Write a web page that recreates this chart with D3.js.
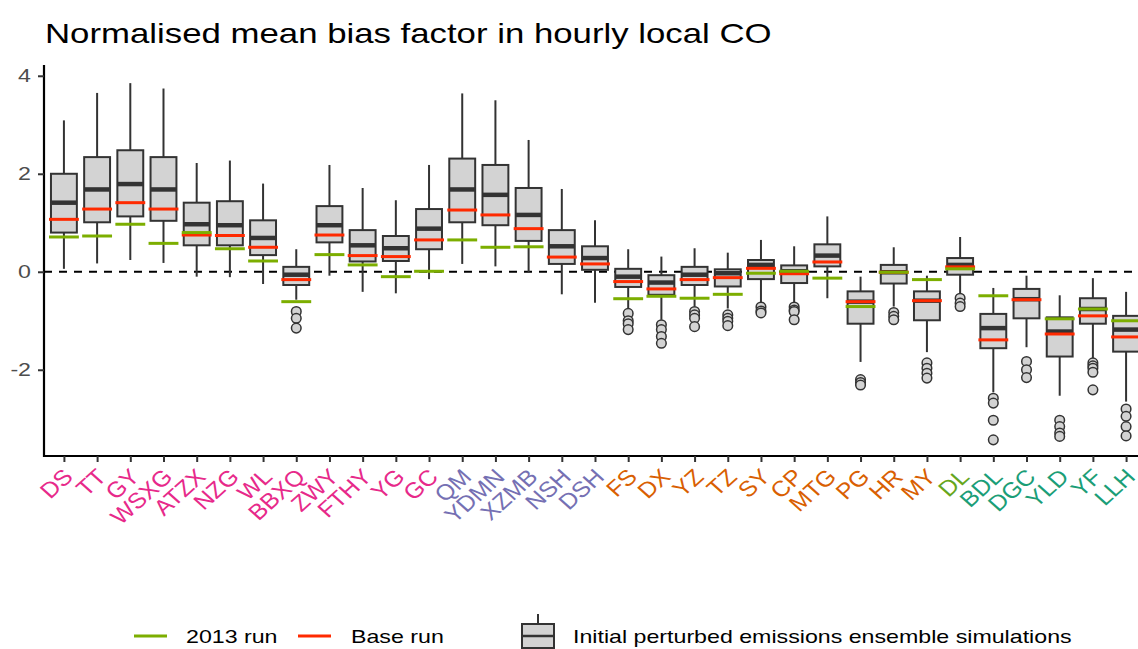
<!DOCTYPE html>
<html>
<head>
<meta charset="utf-8">
<script src="https://cdn.jsdelivr.net/npm/d3@7"></script>
<style>
  html, body { margin: 0; padding: 0; background: #fff; }
  svg { display: block; font-family: "Liberation Sans", Arial, sans-serif; }
</style>
</head>
<body>
<svg id="chart" width="1138" height="649"></svg>
<script>
// Sites and their region groups
const sites = ["DS","TT","GY","WSXG","ATZX","NZG","WL","BBXQ","ZWY","FTHY","YG","GC",
               "QM","YDMN","XZMB","NSH","DSH",
               "FS","DX","YZ","TZ","SY","CP","MTG","PG","HR","MY",
               "DL",
               "BDL","DGC","YLD","YF","LLH"];
const regions = ["A","A","A","A","A","A","A","A","A","A","A","A",
                 "B","B","B","B","B",
                 "C","C","C","C","C","C","C","C","C","C",
                 "D",
                 "E","E","E","E","E"];
const regionNames = ["A","B","C","D","E"];
const regionColours = ["#E7298A","#7570B3","#D95F02","#66A61E","#1B9E77"];

// Ensemble box statistics per site
const whiskerLow  = [0.06,0.17,0.24,0.18,-0.10,-0.11,-0.25,-0.57,-0.08,-0.41,-0.44,-0.15,
                     0.16,0.11,-0.01,-0.46,-0.63,
                     -0.76,-0.98,-0.71,-0.75,-0.64,-0.67,-0.54,-1.84,-0.71,-1.64,
                     -0.47,
                     -2.46,-1.54,-2.53,-1.83,-2.65];
const lowerQuartile = [0.80,1.01,1.13,1.04,0.54,0.54,0.34,-0.27,0.60,0.21,0.22,0.46,
                       1.01,0.95,0.63,0.16,0.04,
                       -0.31,-0.47,-0.27,-0.30,-0.15,-0.23,0.11,-1.06,-0.24,-0.99,
                       -0.06,
                       -1.56,-0.95,-1.73,-1.06,-1.63];
const medians = [1.41,1.68,1.79,1.68,0.97,0.95,0.69,-0.06,0.95,0.54,0.48,0.88,
                 1.68,1.57,1.16,0.52,0.28,
                 -0.10,-0.22,-0.06,-0.03,0.14,0.01,0.33,-0.61,-0.01,-0.59,
                 0.14,
                 -1.15,-0.56,-1.22,-0.76,-1.18];
const upperQuartile = [2.00,2.34,2.48,2.34,1.41,1.44,1.05,0.10,1.34,0.85,0.73,1.28,
                       2.31,2.18,1.71,0.85,0.52,
                       0.06,-0.07,0.10,0.05,0.24,0.13,0.56,-0.40,0.14,-0.40,
                       0.28,
                       -0.86,-0.35,-0.93,-0.54,-0.90];
const whiskerHigh = [3.09,3.65,3.85,3.74,2.22,2.27,1.80,0.46,2.18,1.71,1.46,2.18,
                     3.64,3.50,2.69,1.69,1.05,
                     0.46,0.31,0.48,0.39,0.65,0.52,1.13,-0.10,0.50,-0.08,
                     0.71,
                     -0.33,-0.08,-0.48,-0.13,-0.41];
const outliers = [[],[],[],[],[],[],[],[-0.81,-0.95,-1.15],[],[],[],[],
                  [],[],[],[],[],
                  [-0.85,-1.00,-1.06,-1.18],[-1.08,-1.18,-1.32,-1.46],[-0.81,-0.88,-0.95,-1.12],
                  [-0.88,-0.95,-1.01,-1.10],[-0.72,-0.80,-0.84],[-0.72,-0.78,-0.81,-0.98],[],
                  [-2.20,-2.26,-2.31],[-0.83,-0.91,-0.98],[-1.86,-1.97,-2.07,-2.17],
                  [-0.54,-0.64,-0.71],
                  [-2.58,-2.68,-3.03,-3.43],[-1.83,-2.00,-2.16],[-3.03,-3.16,-3.29,-3.36],
                  [-1.86,-1.92,-1.97,-2.05,-2.41],[-2.80,-2.95,-3.16,-3.35]];

// Single-run results (null where the 2013 run has no value)
const baseRun = [1.07,1.28,1.41,1.28,0.75,0.74,0.50,-0.16,0.75,0.33,0.31,0.65,
                 1.26,1.16,0.88,0.30,0.16,
                 -0.20,-0.35,-0.16,-0.12,0.07,-0.04,0.20,-0.61,-0.01,-0.59,
                 0.10,
                 -1.39,-0.57,-1.27,-0.90,-1.33];
const run2013 = [0.71,0.73,0.97,0.58,0.80,0.47,0.22,-0.61,0.35,0.14,-0.10,0.01,
                 0.65,0.50,0.51,null,null,
                 -0.55,-0.50,-0.54,-0.46,-0.03,0.01,-0.13,-0.71,-0.01,-0.16,
                 0.06,
                 -0.49,null,-0.96,-0.76,-1.00];

const yTicks = [-2, 0, 2, 4];
const yDomain = [-3.76, 4.22];

// Horizontal widening of the typeface
const widen = 1.22;

const svg = d3.select("#chart");
const panel = {left: 44, right: 1146, top: 65, bottom: 456};

const x = d3.scalePoint().domain(sites).range([panel.left, panel.right]).padding(0.6);
const y = d3.scaleLinear().domain(yDomain).range([panel.bottom, panel.top]);
const colour = d3.scaleOrdinal().domain(regionNames).range(regionColours);
const step = x.step();
const boxW = step * 0.78;
const segW = step * 0.9;

// stretch a text selection horizontally by the given factor
function stretch(sel, k) {
  sel.each(function () {
    const len = this.getComputedTextLength();
    d3.select(this).attr("textLength", len * k).attr("lengthAdjust", "spacingAndGlyphs");
  });
}

const rows = sites.map((s, i) => ({
  site: s, region: regions[i],
  lo: whiskerLow[i], q1: lowerQuartile[i], med: medians[i], q3: upperQuartile[i], hi: whiskerHigh[i],
  out: outliers[i], base: baseRun[i], r2013: run2013[i]
}));

// Title
svg.append("text")
  .attr("x", 45).attr("y", 43)
  .attr("font-size", 28.5).attr("fill", "#000")
  .text("Normalised mean bias factor in hourly local CO")
  .call(stretch, widen);

const plot = svg.append("g");

// zero reference line
plot.append("line")
  .attr("x1", panel.left).attr("x2", panel.right)
  .attr("y1", y(0)).attr("y2", y(0))
  .attr("stroke", "#000").attr("stroke-width", 2)
  .attr("stroke-dasharray", "8,7");

const g = plot.selectAll("g.site").data(rows).join("g").attr("class", "site");

// whiskers
g.append("line")
  .attr("x1", d => x(d.site)).attr("x2", d => x(d.site))
  .attr("y1", d => y(d.hi)).attr("y2", d => y(d.lo))
  .attr("stroke", "#333").attr("stroke-width", 2);

// boxes
g.append("rect")
  .attr("x", d => x(d.site) - boxW / 2).attr("width", boxW)
  .attr("y", d => y(d.q3)).attr("height", d => y(d.q1) - y(d.q3))
  .attr("fill", "#D3D3D3").attr("stroke", "#333").attr("stroke-width", 2);

// medians
g.append("line")
  .attr("x1", d => x(d.site) - boxW / 2).attr("x2", d => x(d.site) + boxW / 2)
  .attr("y1", d => y(d.med)).attr("y2", d => y(d.med))
  .attr("stroke", "#333").attr("stroke-width", 4.5);

// outliers
g.selectAll("circle").data(d => d.out.map(v => ({site: d.site, v})))
  .join("circle")
  .attr("cx", d => x(d.site)).attr("cy", d => y(d.v)).attr("r", 4.8)
  .attr("fill", "#D3D3D3").attr("stroke", "#333").attr("stroke-width", 1.5);

// base run segments
g.append("line")
  .attr("x1", d => x(d.site) - segW / 2).attr("x2", d => x(d.site) + segW / 2)
  .attr("y1", d => y(d.base)).attr("y2", d => y(d.base))
  .attr("stroke", "#FF2A00").attr("stroke-width", 3);

// 2013 run segments
g.filter(d => d.r2013 !== null).append("line")
  .attr("x1", d => x(d.site) - segW / 2).attr("x2", d => x(d.site) + segW / 2)
  .attr("y1", d => y(d.r2013)).attr("y2", d => y(d.r2013))
  .attr("stroke", "#7CAE00").attr("stroke-width", 3);

// Axes
const yAxis = svg.append("g")
  .attr("transform", `translate(${panel.left},0)`)
  .call(d3.axisLeft(y).tickValues(yTicks).tickSize(6).tickPadding(7).tickFormat(d => String(d)));
yAxis.select(".domain").attr("d", `M0,${panel.top}V${panel.bottom + 1}`).attr("stroke", "#000").attr("stroke-width", 2.2);
yAxis.selectAll(".tick line").attr("stroke", "#333").attr("stroke-width", 2);
yAxis.selectAll(".tick text").attr("font-size", 19).attr("fill", "#4D4D4D")
  .attr("font-family", "Liberation Sans, Arial, sans-serif")
  .call(stretch, widen);

const xAxis = svg.append("g")
  .attr("transform", `translate(0,${panel.bottom})`)
  .call(d3.axisBottom(x).tickSize(6).tickPadding(4));
xAxis.select(".domain").attr("d", `M${panel.left - 1},0H${panel.right}`).attr("stroke", "#000").attr("stroke-width", 2.2);
xAxis.selectAll(".tick line").attr("stroke", "#333").attr("stroke-width", 2);
xAxis.selectAll(".tick text")
  .attr("font-size", 22)
  .attr("font-family", "Liberation Sans, Arial, sans-serif")
  .attr("fill", d => colour(regions[sites.indexOf(d)]))
  .attr("text-anchor", "end")
  .attr("x", 0).attr("y", 0)
  .attr("dy", "0.72em")
  .attr("transform", "translate(-2.5,11) scale(1.12,1) rotate(-45)");

// Legend
const legend = svg.append("g").attr("font-size", 19).attr("fill", "#000");
const ly = 636;
legend.append("line").attr("x1", 134).attr("x2", 167).attr("y1", ly).attr("y2", ly)
  .attr("stroke", "#7CAE00").attr("stroke-width", 3);
legend.append("text").attr("x", 186).attr("y", ly).attr("dy", "0.35em").text("2013 run").call(stretch, widen);
legend.append("line").attr("x1", 298).attr("x2", 331).attr("y1", ly).attr("y2", ly)
  .attr("stroke", "#FF2A00").attr("stroke-width", 3);
legend.append("text").attr("x", 351).attr("y", ly).attr("dy", "0.35em").text("Base run").call(stretch, widen);
const kx = 538;
legend.append("line").attr("x1", kx).attr("x2", kx).attr("y1", 614).attr("y2", 658)
  .attr("stroke", "#333").attr("stroke-width", 2);
legend.append("rect").attr("x", kx - 16).attr("y", 624).attr("width", 32).attr("height", 24)
  .attr("fill", "#D3D3D3").attr("stroke", "#333").attr("stroke-width", 2);
legend.append("line").attr("x1", kx - 16).attr("x2", kx + 16).attr("y1", 636).attr("y2", 636)
  .attr("stroke", "#333").attr("stroke-width", 2.5);
legend.append("text").attr("x", 573).attr("y", ly).attr("dy", "0.35em")
  .text("Initial perturbed emissions ensemble simulations").call(stretch, widen);
</script>
</body>
</html>
